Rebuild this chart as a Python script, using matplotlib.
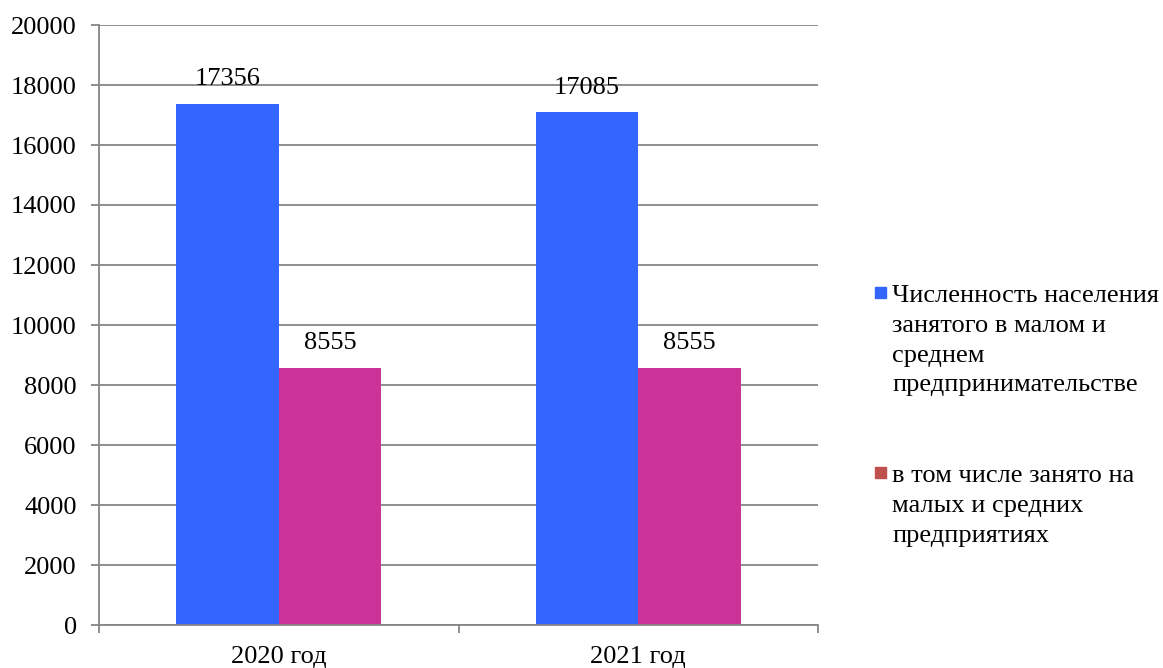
import numpy as np
import matplotlib.pyplot as plt
from matplotlib.patches import Rectangle

plt.rcParams['font.family'] = ['Liberation Serif', 'DejaVu Serif']

# Data
years = ['2020 год', '2021 год']
total_employed = [17356, 17085]
employed_sme = [8555, 8555]
series_labels = ['Численность населения\nзанятого в малом и\nсреднем\nпредпринимательстве',
                 'в том числе занято на\nмалых и средних\nпредприятиях']

blue = '#3366FF'
magenta = '#CC3399'
legend_red = '#C0504D'
grid_col = '#868686'

W, H = 1163, 668
fig = plt.figure(figsize=(W / 100, H / 100), dpi=100)
ax = fig.add_axes([99 / W, 1 - 625 / H, (818 - 99) / W, (625 - 25) / H])

x = np.arange(len(years))
bw = 0.285
b1 = ax.bar(x - bw / 2, total_employed, bw, color=blue)
b2 = ax.bar(x + bw / 2, employed_sme, bw, color=magenta)

for bars in (b1, b2):
    for r in bars:
        ax.annotate(str(int(r.get_height())), (r.get_x() + r.get_width() / 2, r.get_height()),
                    xytext=(0, 10), textcoords='offset points', ha='center', va='bottom', fontsize=19)

ax.set_xlim(-0.5, 1.5)
ax.set_ylim(0, 20000)
ax.set_yticks(np.arange(0, 20001, 2000))
ax.yaxis.grid(True, color=grid_col, lw=1.3)
ax.set_axisbelow(True)
for s in ['top', 'right']:
    ax.spines[s].set_visible(False)
for s in ['left', 'bottom']:
    ax.spines[s].set_color(grid_col)
    ax.spines[s].set_linewidth(1.3)

ax.set_xticks(x)
ax.set_xticklabels(years, fontsize=19)
ax.set_xticks([-0.5, 0.5, 1.5], minor=True)
ax.tick_params(axis='x', which='major', length=0, pad=15)
ax.tick_params(axis='x', which='minor', length=6, color=grid_col, width=1.3)
ax.tick_params(axis='y', length=6, color=grid_col, width=1.3, labelsize=19, pad=10)

# Legend drawn by hand so the marker sits on the first line
leg_y = [285, 465]
for col, lab, ty in zip([blue, legend_red], series_labels, leg_y):
    fig.patches.append(Rectangle((875 / W, 1 - (ty + 13) / H), 11 / W, 11 / H,
                                 transform=fig.transFigure, color=col))
    fig.text(892 / W, 1 - ty / H, lab, fontsize=19, va='top', ha='left', linespacing=1.46)

fig.savefig('out.png', dpi=100)
